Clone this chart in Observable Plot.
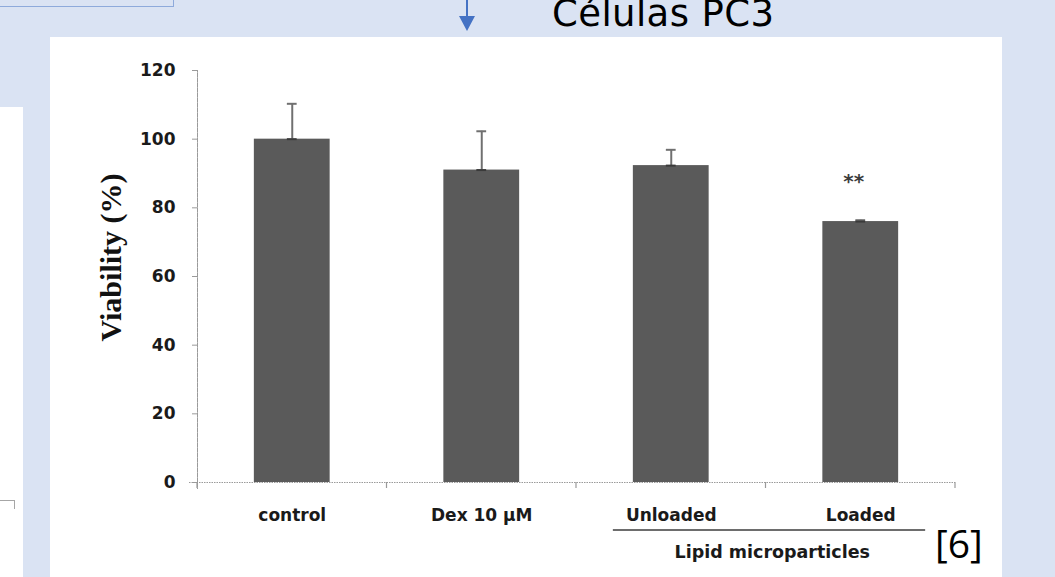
<!DOCTYPE html>
<html><head><meta charset="utf-8">
<script src="https://cdn.jsdelivr.net/npm/d3@7"></script>
<script src="https://cdn.jsdelivr.net/npm/@observablehq/plot@0.6"></script>
<style>
html,body{margin:0;padding:0;}
body{width:1055px;height:577px;background:#dae3f3;position:relative;overflow:hidden;font-family:"DejaVu Sans",sans-serif;}
#topbox{position:absolute;left:-2px;top:-10px;width:174px;height:15px;border:1.5px solid #8eaadb;}
#shaft{position:absolute;left:466px;top:0;width:2px;height:18px;background:#4472c4;}
#head{position:absolute;left:459px;top:16px;width:0;height:0;border-left:8px solid transparent;border-right:8px solid transparent;border-top:15px solid #4472c4;}
#title{position:absolute;left:552px;top:-5px;font-family:"DejaVu Sans",sans-serif;font-size:37px;line-height:37px;color:#000;white-space:nowrap;letter-spacing:0.4px;}
#leftbox{position:absolute;left:0;top:107px;width:23px;height:470px;background:#fff;}
#bracket{position:absolute;left:0;top:393px;width:14px;height:8px;border-top:1.5px solid #a6a6a6;border-right:1.5px solid #a6a6a6;}
#chart{position:absolute;left:50px;top:37px;width:952px;height:540px;background:#fff;}
#chart svg{display:block;}
#ref{position:absolute;left:935px;top:523px;font-family:"Open Sans",sans-serif;font-size:39px;line-height:39px;color:#000;}
</style></head><body>
<div id="topbox"></div>
<div id="shaft"></div><div id="head"></div>
<div id="title">Células PC3</div>
<div id="leftbox"><div id="bracket"></div></div>
<div id="chart"></div>
<div id="ref">[6]</div>
<script>
const categories = ["control", "Dex 10 µM", "Unloaded", "Loaded"];
const viability = [100, 91, 92.3, 76];
const sd = [10.3, 11.3, 4.6, 0.4];
const significance = ["", "", "", "**"];
const yTicks = [0, 20, 40, 60, 80, 100, 120];
const yLabel = "Viability (%)";
const groupLabel = "Lipid microparticles";
const groupMembers = ["Unloaded", "Loaded"];

const data = categories.map((c, i) => ({category: c, value: viability[i], upper: viability[i] + sd[i], sig: significance[i]}));

const axisGray = "#9a9a9a";
const plot = Plot.plot({
  width: 952, height: 540,
  marginLeft: 147, marginRight: 47, marginTop: 33, marginBottom: 95,
  style: {background: "white", fontFamily: "'DejaVu Sans', sans-serif", color: "#1a1a1a"},
  x: {domain: categories, paddingInner: 0.6, paddingOuter: 0.3, round: false, label: null},
  y: {domain: [0, 120], ticks: yTicks, label: null},
  marks: [
    Plot.barY(data, {x: "category", y: "value", fill: "#5a5a5a"}),
    Plot.ruleX(data, {x: "category", y1: "value", y2: "upper", stroke: "#707070", strokeWidth: 2}),
    Plot.tickY(data, {x: "category", y: "upper", stroke: "#707070", strokeWidth: 2, insetLeft: 33, insetRight: 33}),
    Plot.tickY(data, {x: "category", y: "value", stroke: "#3a3a3a", strokeWidth: 2, insetLeft: 33, insetRight: 33}),
    Plot.text(data, {x: "category", y: "upper", text: "sig", dx: -7, dy: -39, fontSize: 20, fontWeight: "bold", fill: "#3c3c3c"}),
    Plot.ruleY([0], {stroke: axisGray, strokeDasharray: "1.5,1", insetLeft: -8}),
    Plot.frame({anchor: "left", stroke: axisGray, strokeDasharray: "1.5,1", insetBottom: -6}),
    Plot.axisY({ticks: yTicks, tickSize: 5, tickPadding: 17, fontSize: 17, fontWeight: "bold", stroke: axisGray, label: null}),
    Plot.axisX({tickSize: 0, tickPadding: 26, fontSize: 17, fontWeight: "bold", label: null}),
    Plot.text([yLabel], {frameAnchor: "left", textAnchor: "middle", text: d => d, rotate: -90, dx: -86, dy: -19, fontSize: 30, fontWeight: "bold", fontFamily: "'Liberation Serif', serif", fill: "#111"}),
    Plot.text([groupLabel], {x: () => groupMembers[0], y: () => 0, text: d => d, dx: 101, dy: 70, fontSize: 17.5, fontWeight: "bold", fill: "#1a1a1a"})
  ]
});
document.getElementById("chart").appendChild(plot);

// category-boundary ticks and the group underline, placed with the plot's own scales
const svg = d3.select(plot);
const xs = plot.scale("x"), ys = plot.scale("y");
const y0 = ys.apply(0);
const gap = (xs.step - xs.bandwidth) / 2;
const bounds = categories.map(c => xs.apply(c) - gap).concat([xs.apply(categories[categories.length - 1]) + xs.bandwidth + gap]);
svg.append("g").selectAll("line").data(bounds).join("line")
  .attr("x1", d => d).attr("x2", d => d).attr("y1", y0).attr("y2", y0 + 6)
  .attr("stroke", axisGray).attr("stroke-width", 1.2);
svg.append("line")
  .attr("x1", xs.apply(groupMembers[0]) - 20)
  .attr("x2", xs.apply(groupMembers[1]) + xs.bandwidth + 27)
  .attr("y1", y0 + 48).attr("y2", y0 + 48)
  .attr("stroke", "#3c3c3c").attr("stroke-width", 1.6);
</script>
</body></html>
